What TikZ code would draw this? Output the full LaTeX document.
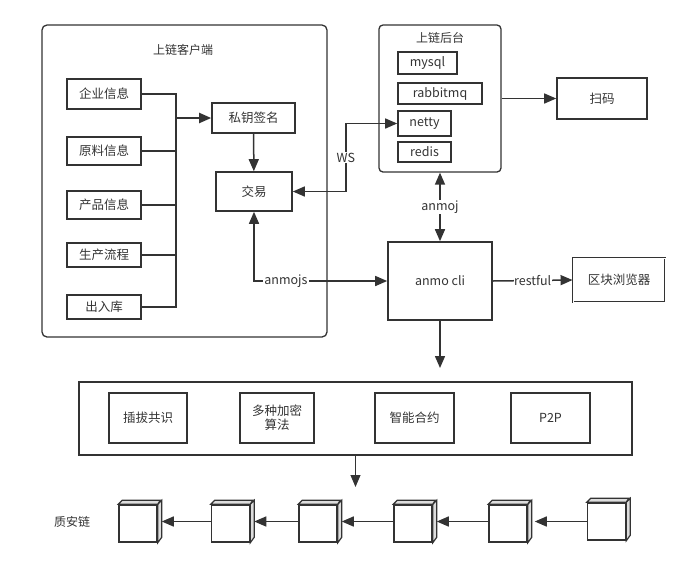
\documentclass[tikz,border=0pt]{standalone}
\usepackage{fontspec}
\setmainfont{Noto Sans CJK SC}
\usetikzlibrary{arrows.meta}
\definecolor{ink}{HTML}{333333}
\definecolor{side}{HTML}{DDDDDD}

\begin{document}
\begin{tikzpicture}[
  x=1pt, y=-1pt,
  every node/.style={font=\fontsize{12.5}{14}\selectfont, text=ink},
  box/.style={draw=ink, line width=1.6pt, minimum height=28pt, inner sep=0pt, align=center},
  frame/.style={draw=ink, line width=1.3pt, inner sep=0pt},
  title/.style={font=\fontsize{12}{14}\selectfont},
  arrow/.style={-{Triangle[length=12pt,width=10pt]}, draw=ink, line width=1.5pt},
  twoway/.style={{Triangle[length=12pt,width=10pt]}-{Triangle[length=12pt,width=10pt]}, draw=ink, line width=1.5pt},
  wire/.style={draw=ink, line width=1.3pt},
  lbl/.style={fill=white, inner sep=1pt},
  block/.style={draw=ink, line width=1.5pt, fill=white, minimum width=38pt, minimum height=37pt, inner sep=0pt}
]
\useasboundingbox (0,0) rectangle (689,566);

% Client frame with its inputs
\node[frame, rounded corners=5pt, minimum width=285pt, minimum height=312pt] (client) at (184.5,181) {};
\node[title] (clientTitle) at (183,50) {上链客户端};

\node[box, minimum width=74pt, minimum height=30pt] (corp) at (104,94) {企业信息};
\node[box, minimum width=74pt] (raw) at (104,151) {原料信息};
\node[box, minimum width=74pt] (prod) at (104,205) {产品信息};
\node[box, minimum width=74pt, minimum height=24pt] (flow) at (104,255) {生产流程};
\node[box, minimum width=74pt, minimum height=24pt] (stock) at (104,307) {出入库};

% Inputs gathered on one bus
\coordinate (bus) at (176,118);
\foreach \n in {corp,raw,prod,flow,stock}
  \draw[wire] (\n.east) -| (bus);

\node[box, minimum width=83pt, minimum height=30pt] (sign) at (253.5,118) {私钥签名};
\node[box, minimum width=76pt, minimum height=39pt] (trade) at (254,191.5) {交易};
\draw[arrow, line width=2pt] (bus) -- (sign);
\draw[arrow] (sign) -- (trade);

% Backend frame
\node[frame, rounded corners=4pt, minimum width=122pt, minimum height=147pt] (backend) at (440,98.5) {};
\node[title] (backTitle) at (440,38) {上链后台};
\node[box, minimum width=59pt, minimum height=22pt] (mysql) at (427.5,63) {mysql};
\node[box, minimum width=84pt, minimum height=21pt] (rabbit) at (440,93.5) {rabbitmq};
\node[box, minimum width=53pt, minimum height=25pt] (netty) at (424.5,123.5) {netty};
\node[box, minimum width=53pt, minimum height=20pt] (redis) at (424.5,152) {redis};

\node[box, minimum width=90pt, minimum height=41pt] (scan) at (602,98.5) {扫码};
\draw[arrow] (backend.east) -- (scan);

% Chain client and explorer
\node[box, minimum width=104pt, minimum height=78pt] (cli) at (440,281) {anmo cli};
\node[box, draw=ink, line width=0.9pt, double, double distance=0.8pt,
      minimum width=92pt, minimum height=44pt] (browser) at (619,280) {区块浏览器};

% Links between the parts
\draw[twoway] (trade.east) -- ++(53,0) |- node[lbl, pos=0.25] {WS} (netty.west);
\draw[twoway] (trade.south) |- node[lbl, pos=0.62] {anmojs} (cli.west);
\draw[twoway] (backend.south) -- node[lbl] {anmoj} (cli.north);
\draw[arrow] (cli.east) -- node[lbl, inner sep=0.5pt] {restful} (browser.west);

% Core services
\coordinate (coreIn) at (440,368);
\draw[arrow] (cli.south) -- (coreIn);
\node[frame, minimum width=553pt, minimum height=73pt] (core) at (355.5,418.5) {};
\node[box, minimum width=78pt, minimum height=50pt] (plug) at (148,418) {插拔共识};
\node[box, minimum width=74pt, minimum height=50pt] (crypto) at (277,418) {多种加密\\算法};
\node[box, minimum width=79pt, minimum height=50pt] (contract) at (414.5,418) {智能合约};
\node[box, minimum width=79pt, minimum height=50pt] (ptp) at (550.5,418) {P2P};

\coordinate (chainIn) at (355.5,487);
\draw[arrow, line width=1pt] (core.south) -- (chainIn);

% Block chain
\node[title] (chainLabel) at (72,522) {质安链};
\foreach \i/\bx/\by in {1/138/523.5, 2/230.5/523.5, 3/318/523.5, 4/413/523.5, 5/508/523.5, 6/606.5/521.5} {
  \node[block] (b\i) at (\bx,\by) {};
  \draw[ink, line width=1.2pt, fill=side] (b\i.north east) -- ++(4,-4) -- ++(0,37) -- (b\i.south east) -- cycle;
  \draw[ink, line width=1.2pt, fill=side] (b\i.north west) -- ++(4,-4) -- ++(38,0) -- (b\i.north east) -- cycle;
}
\foreach \a/\b in {2/1,3/2,4/3,5/4}
  \draw[arrow] ([yshift=2pt]b\a.west) -- ([xshift=4pt,yshift=2pt]b\b.east);
\draw[arrow] (b6.west) -- ([xshift=7pt,yshift=2pt]b5.east);

\end{tikzpicture}
\end{document}
